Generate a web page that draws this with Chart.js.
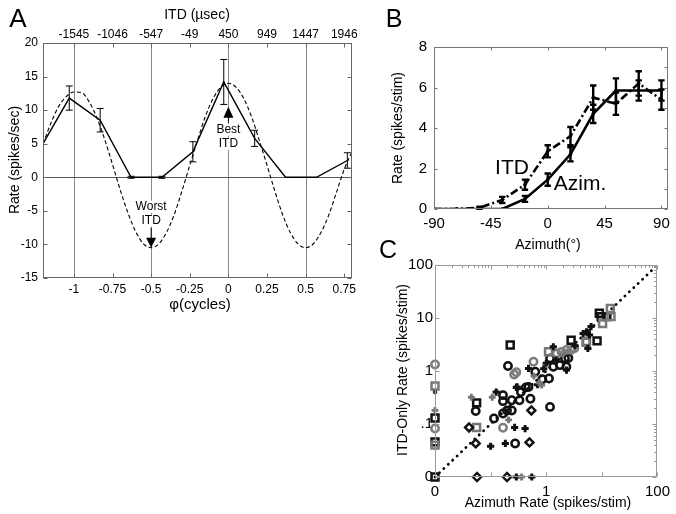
<!DOCTYPE html>
<html><head><meta charset="utf-8">
<script src="https://cdn.jsdelivr.net/npm/chart.js@4.4.0/dist/chart.umd.min.js"></script>
<style>
html,body{margin:0;padding:0;background:#fff;overflow:hidden;width:676px;height:514px;}
canvas{position:absolute;}
</style></head><body>
<canvas id="cA" width="370" height="330" style="left:0px;top:0px"></canvas>
<canvas id="cB" width="306" height="260" style="left:370px;top:0px"></canvas>
<canvas id="cC" width="306" height="274" style="left:370px;top:240px"></canvas>
<script>
// ---------------- Panel A data ----------------
const phiTicks = [-1, -0.75, -0.5, -0.25, 0, 0.25, 0.5, 0.75];
const itdTickLabels = ['-1545', '-1046', '-547', '-49', '450', '949', '1447', '1946'];
const rateTicksA = [-15, -10, -5, 0, 5, 10, 15, 20];
const gridPhi = [-1, -0.5, 0, 0.5];
const phiMeasured = [-1.2, -1.03, -0.83, -0.63, -0.43, -0.23, -0.03, 0.17, 0.37, 0.57, 0.77];
const rateMeasured = [5.0, 11.8, 8.5, 0, 0, 3.8, 14.2, 5.8, 0, 0, 2.5];
const rateErrA = [0, 1.8, 1.75, 0.15, 0.15, 1.5, 3.35, 1.2, 0, 0, 1.15];
const phiFit = [-1.2, -1.15, -1.1, -1.05, -1.0, -0.95, -0.9, -0.85, -0.8, -0.75, -0.7, -0.65, -0.6, -0.55, -0.5,
  -0.45, -0.4, -0.35, -0.3, -0.25, -0.2, -0.15, -0.1, -0.05, 0, 0.05, 0.1, 0.15, 0.2, 0.25, 0.3, 0.35, 0.4,
  0.45, 0.5, 0.55, 0.6, 0.65, 0.7, 0.75, 0.8];
const rateFit = [5.0, 8.0, 10.5, 12.0, 12.7, 12.6, 11.2, 8.8, 5.6, 1.9, -1.9, -5.3, -8.1, -9.9, -10.5,
  -9.9, -8.2, -5.5, -2.0, 1.8, 5.5, 9.0, 11.7, 13.4, 14.0, 13.4, 11.7, 9.0, 5.5, 1.8, -2.0, -5.5, -8.2,
  -9.9, -10.5, -9.9, -8.2, -5.6, -2.2, 1.2, 3.8];

// ---------------- Panel B data ----------------
const azimuthDeg = [-90, -72, -54, -36, -18, 0, 18, 36, 54, 72, 90];
const azimRate = [0, 0, 0, 0, 0.5, 1.45, 2.7, 4.7, 5.85, 5.85, 5.85];
const azimErr = [0, 0, 0, 0, 0.15, 0.3, 0.35, 0.45, 0.6, 0.5, 0.5];
const itdRate = [0, 0, 0.06, 0.45, 1.2, 2.85, 3.6, 5.5, 5.2, 6.2, 5.4];
const itdErr = [0, 0, 0.05, 0.15, 0.25, 0.3, 0.45, 0.6, 0.55, 0.6, 0.5];
const azTicks = [-90, -45, 0, 45, 90];
const rateTicksB = [0, 2, 4, 6, 8];

// ---------------- Panel C data (0 = plotted on the "0" axis line) ----------------
const cTicksX = [0.01, 1, 100];
const cTickLabelsX = ['0', '1', '100'];
const cTicksY = [0.01, 0.1, 1, 10, 100];
const cTickLabelsY = ['0', '.1', '1', '10', '100'];
const blackCircles = [[0.205,1.24],[0.167,0.35],[0.167,0.27],[0.24,0.28],[0.33,0.28],[0.43,0.49],[0.197,0.18],
  [0.167,0.158],[0.24,0.18],[0.115,0.127],[0.054,0.175],[0.276,0.043],[0.52,0.30],[0.635,0.97],[0.85,0.70],
  [1.12,0.72],[1.17,0.21],[1.17,1.73],[2.17,1.73],[1.76,1.29],[1.34,1.2],[2.5,1.75],[0.48,0.50],[0.35,0.40],[2.3,1.2]];
const grayCircles = [[0,1.33],[0.265,0.86],[0.167,0.085],[0.59,1.49],[0,0.082],[1.54,2.15],[1.88,2.3],
  [2.3,2.5],[2.8,2.5],[3.2,2.7],[0.29,0.95]];
const blackSquares = [[0.225,3.1],[0,0.13],[0,0.046],[0,0],[2.8,3.8],[8.2,3.7],[9.0,12.3],[9.7,10.6],[12.3,10.6],[0.056,0.25]];
const graySquares = [[0,0.52],[0.056,0.086],[1.1,2.3],[5.2,3.5],[5.3,3.6],[10.3,7.9],[14.2,15.1],[14.6,10.6],[0,0.04]];
const diamonds = [[0.041,0.086],[0.054,0.043],[0.057,0],[0.197,0],[0.54,0.18],[0.5,0.045]];
const blackCrosses = [[0.29,0.49],[0.126,0.40],[0.27,0.086],[0.417,0.082],[0.1,0.038],[0.184,0.043],[0.48,1.12],
  [1.0,1.4],[1.34,2.87],[2.31,1.04],[4.6,5.1],[5.3,5.5],[6.4,6.9],[6.0,4.8],[5.6,2.67],[0.55,0],[0.29,0],
  [0.7,0.55],[0.3,0.5],[0.9,1.1],[1.5,1.6],[3.3,3.0]];
const grayCrosses = [[0.045,0.32],[0.107,0.32],[0.21,0.12],[0.83,0.54],[0.36,0],[0,0.18],[0.75,0.6],[2.0,2.1],[0.6,0.8]];
const smallDots = [[0,0.40]];
const diagonal = [[0.01,0.01],[100,100]];

// ---------------- helpers ----------------
const FONT = "'Liberation Sans', Arial, Helvetica, sans-serif";
const C_ZERO = 0.01;
Chart.defaults.font.family = FONT;
Chart.defaults.color = '#000';

function makeFrame(cfg) {
  return {
    id: 'frame',
    beforeDatasetsDraw(chart) {
      const {ctx, chartArea: a} = chart;
      const X = chart.scales[cfg.x], Y = chart.scales[cfg.y];
      ctx.save();
      ctx.lineWidth = 1;
      (cfg.vgrid || []).forEach(v => {
        const px = Math.round(X.getPixelForValue(v)) + 0.5;
        ctx.strokeStyle = cfg.gridColor; ctx.beginPath(); ctx.moveTo(px, a.top); ctx.lineTo(px, a.bottom); ctx.stroke();
      });
      (cfg.hgrid || []).forEach(v => {
        const py = Math.round(Y.getPixelForValue(v)) + 0.5;
        ctx.strokeStyle = cfg.hgridColor || cfg.gridColor; ctx.beginPath(); ctx.moveTo(a.left, py); ctx.lineTo(a.right, py); ctx.stroke();
      });
      ctx.restore();
    },
    afterDraw(chart) {
      const {ctx, chartArea: a} = chart;
      const X = chart.scales[cfg.x], Y = chart.scales[cfg.y];
      const L = Math.round(a.left) + 0.5, R = Math.round(a.right) - 0.5, T = Math.round(a.top) + 0.5, B = Math.round(a.bottom) - 0.5;
      ctx.save();
      ctx.strokeStyle = cfg.color; ctx.lineWidth = 1;
      ctx.strokeRect(L, T, R - L, B - T);
      const tl = cfg.len;
      ctx.beginPath();
      (cfg.xTicksBottom || []).forEach(v => { const p = Math.round(X.getPixelForValue(v)) + 0.5; ctx.moveTo(p, B); ctx.lineTo(p, B - tl); });
      (cfg.xTicksTop || []).forEach(v => { const p = Math.round(X.getPixelForValue(v)) + 0.5; ctx.moveTo(p, T); ctx.lineTo(p, T + tl); });
      (cfg.yTicksLeft || []).forEach(v => { const p = Math.round(Y.getPixelForValue(v)) + 0.5; ctx.moveTo(L, p); ctx.lineTo(L + tl, p); });
      (cfg.yTicksRight || []).forEach(v => { const p = Math.round(Y.getPixelForValue(v)) + 0.5; ctx.moveTo(R, p); ctx.lineTo(R - tl, p); });
      ctx.stroke();
      if (cfg.minorLen) {
        ctx.beginPath();
        (cfg.xMinorTop || []).forEach(v => { const p = Math.round(X.getPixelForValue(v)) + 0.5; ctx.moveTo(p, T); ctx.lineTo(p, T + cfg.minorLen); });
        (cfg.yMinorRight || []).forEach(v => { const p = Math.round(Y.getPixelForValue(v)) + 0.5; ctx.moveTo(R, p); ctx.lineTo(R - cfg.minorLen, p); });
        ctx.stroke();
      }
      ctx.restore();
    }
  };
}

function makeErrorBars(specs) {
  return {
    id: 'errbars',
    afterDatasetsDraw(chart) {
      const ctx = chart.ctx;
      specs.forEach(s => {
        const X = chart.scales.x, Y = chart.scales.y;
        ctx.save();
        ctx.strokeStyle = s.color; ctx.lineWidth = s.width; ctx.lineCap = 'butt';
        s.xs.forEach((xv, i) => {
          const e = s.errs[i]; if (!e) return;
          const px = X.getPixelForValue(xv);
          const top = Y.getPixelForValue(s.ys[i] + e), bot = Y.getPixelForValue(s.ys[i] - e);
          ctx.beginPath();
          ctx.moveTo(px, top); ctx.lineTo(px, bot);
          ctx.moveTo(px - s.cap, top); ctx.lineTo(px + s.cap, top);
          ctx.moveTo(px - s.cap, bot); ctx.lineTo(px + s.cap, bot);
          ctx.stroke();
        });
        ctx.restore();
      });
    }
  };
}

function makeText(fn) { return {id: 'texts', afterDraw(chart) { const ctx = chart.ctx; ctx.save(); fn(ctx, chart); ctx.restore(); }}; }

function txt(ctx, s, x, y, size, opts = {}) {
  ctx.save();
  ctx.font = (opts.weight || '') + ' ' + size + 'px ' + FONT;
  ctx.fillStyle = opts.color || '#000';
  ctx.textAlign = opts.align || 'center';
  ctx.textBaseline = 'middle';
  ctx.translate(x, y);
  if (opts.rot) ctx.rotate(opts.rot);
  if (opts.bg) {
    const w = ctx.measureText(s).width;
    ctx.fillStyle = '#fff'; ctx.fillRect(-w / 2 - 1, -size / 2, w + 2, size);
    ctx.fillStyle = opts.color || '#000';
  }
  ctx.fillText(s, 0, 0);
  ctx.restore();
}

const pts = (xs, ys) => xs.map((x, i) => ({x, y: ys[i]}));
const cPts = arr => arr.map(([x, y]) => ({x: x === 0 ? C_ZERO : x, y: y === 0 ? C_ZERO : y}));
const fixedTicks = vals => (s => { s.ticks = vals.map(v => ({value: v})); });

// ---------------- Panel A ----------------
new Chart(document.getElementById('cA'), {
  type: 'scatter',
  data: {
    datasets: [
      {data: pts(phiMeasured, rateMeasured), showLine: true, borderColor: '#000', borderWidth: 1.4, pointRadius: 0, tension: 0},
      {data: pts(phiFit, rateFit), showLine: true, borderColor: '#000', borderWidth: 1.1, borderDash: [4, 2.5], pointRadius: 0, cubicInterpolationMode: 'monotone'}
    ]
  },
  options: {
    responsive: false, animation: false,
    layout: {padding: {left: 0, right: 18, top: 0, bottom: 0}},
    plugins: {legend: {display: false}, tooltip: {enabled: false}},
    scales: {
      x: {type: 'linear', position: 'bottom', min: -1.2, max: 0.8, afterBuildTicks: fixedTicks(phiTicks),
        afterFit: s => { s.height = 52; },
        ticks: {callback: v => String(v), font: {size: 12}, color: '#000', padding: 4, autoSkip: false, maxRotation: 0},
        grid: {display: false, drawTicks: false}, border: {display: false}},
      x2: {type: 'linear', position: 'top', min: -1.2, max: 0.8, afterBuildTicks: fixedTicks(phiTicks),
        afterFit: s => { s.height = 43; },
        ticks: {callback: (v, i) => itdTickLabels[i], font: {size: 12}, color: '#000', padding: 1, autoSkip: false, maxRotation: 0},
        grid: {display: false, drawTicks: false}, border: {display: false}},
      y: {type: 'linear', position: 'left', min: -15, max: 20, afterBuildTicks: fixedTicks(rateTicksA),
        afterFit: s => { s.width = 43; },
        ticks: {font: {size: 12}, color: '#000', padding: 5},
        grid: {display: false, drawTicks: false}, border: {display: false}}
    }
  },
  plugins: [
    makeFrame({x: 'x', y: 'y', color: '#666', len: 4, gridColor: '#8a8a8a', hgridColor: '#555', vgrid: gridPhi, hgrid: [0],
      xTicksBottom: phiTicks, xTicksTop: phiTicks, yTicksLeft: rateTicksA, yTicksRight: rateTicksA}),
    makeErrorBars([{xs: phiMeasured, ys: rateMeasured, errs: rateErrA, color: '#000', width: 1, cap: 3.5}]),
    makeText((ctx, chart) => {
      const X = chart.scales.x, Y = chart.scales.y;
      txt(ctx, 'A', 18, 20, 26);
      txt(ctx, 'ITD (µsec)', 197, 15, 14);
      txt(ctx, 'φ(cycles)', 200, 305, 15);
      txt(ctx, 'Rate (spikes/sec)', 15, 160, 14, {rot: -Math.PI / 2});
      // Best ITD arrow (pointing up)
      const bx = X.getPixelForValue(0), btip = Y.getPixelForValue(10.5);
      txt(ctx, 'Best', bx, btip + 23, 12, {bg: true});
      txt(ctx, 'ITD', bx, btip + 37, 12, {bg: true});
      ctx.fillStyle = '#000'; ctx.strokeStyle = '#000'; ctx.lineWidth = 1;
      ctx.beginPath(); ctx.moveTo(bx, btip); ctx.lineTo(bx - 5, btip + 11); ctx.lineTo(bx + 5, btip + 11); ctx.closePath(); ctx.fill();
      ctx.beginPath(); ctx.moveTo(bx, btip + 10); ctx.lineTo(bx, btip + 16); ctx.stroke();
      // Worst ITD arrow (pointing down)
      const wx = X.getPixelForValue(-0.5), wtip = Y.getPixelForValue(-10.5);
      txt(ctx, 'Worst', wx, wtip - 41, 12, {bg: true});
      txt(ctx, 'ITD', wx, wtip - 27, 12, {bg: true});
      ctx.beginPath(); ctx.moveTo(wx, wtip); ctx.lineTo(wx - 5, wtip - 10); ctx.lineTo(wx + 5, wtip - 10); ctx.closePath(); ctx.fill();
      ctx.beginPath(); ctx.moveTo(wx, wtip - 9); ctx.lineTo(wx, wtip - 20); ctx.stroke();
    })
  ]
});

// ---------------- Panel B ----------------
new Chart(document.getElementById('cB'), {
  type: 'scatter',
  data: {
    datasets: [
      {data: pts(azimuthDeg, azimRate), showLine: true, borderColor: '#000', borderWidth: 2.6, pointRadius: 1.8, pointBackgroundColor: '#000', pointBorderWidth: 0, tension: 0},
      {data: pts(azimuthDeg, itdRate), showLine: true, borderColor: '#000', borderWidth: 2.6, borderDash: [8, 3, 2, 3], pointRadius: 1.8, pointBackgroundColor: '#000', pointBorderWidth: 0, tension: 0}
    ]
  },
  options: {
    responsive: false, animation: false,
    layout: {padding: {left: 0, right: 8, top: 47, bottom: 0}},
    plugins: {legend: {display: false}, tooltip: {enabled: false}},
    scales: {
      x: {type: 'linear', min: -90, max: 95, afterBuildTicks: fixedTicks(azTicks),
        afterFit: s => { s.height = 51; },
        ticks: {font: {size: 15}, color: '#000', padding: 6, autoSkip: false, maxRotation: 0},
        grid: {display: false, drawTicks: false}, border: {display: false}},
      y: {type: 'linear', min: 0, max: 8, afterBuildTicks: fixedTicks(rateTicksB),
        afterFit: s => { s.width = 64; },
        ticks: {font: {size: 15}, color: '#000', padding: 7},
        grid: {display: false, drawTicks: false}, border: {display: false}}
    }
  },
  plugins: [
    makeFrame({x: 'x', y: 'y', color: '#777', len: 3, xTicksBottom: azTicks, xTicksTop: azTicks, yTicksLeft: rateTicksB, yTicksRight: [0,1,2,3,4,5,6,7,8]}),
    makeErrorBars([
      {xs: azimuthDeg, ys: azimRate, errs: azimErr, color: '#000', width: 2.4, cap: 3.2},
      {xs: azimuthDeg, ys: itdRate, errs: itdErr, color: '#000', width: 2.4, cap: 3.2}
    ]),
    makeText((ctx) => {
      txt(ctx, 'B', 24, 20, 25);
      txt(ctx, 'Rate (spikes/stim)', 28, 128, 14, {rot: -Math.PI / 2});
      txt(ctx, 'Azimuth(°)', 178, 245, 14);
      txt(ctx, 'ITD', 142, 168, 21);
      txt(ctx, 'Azim.', 210, 184, 21);
    })
  ]
});

// ---------------- Panel C ----------------
const mk = (arr, style, color, radius, bw) => ({data: cPts(arr), pointStyle: style, pointRadius: radius, pointBorderColor: color,
  pointBackgroundColor: 'rgba(0,0,0,0)', pointBorderWidth: bw, showLine: false, clip: false});
const minorVals = [];
[0.01, 0.1, 1, 10].forEach(d => { for (let k = 2; k <= 9; k++) minorVals.push(d * k); });
new Chart(document.getElementById('cC'), {
  type: 'scatter',
  data: {
    datasets: [
      mk(smallDots, 'circle', '#333', 1.4, 1.8),
      mk(grayCrosses, 'cross', '#777', 3.4, 2.8),
      mk(blackCrosses, 'cross', '#111', 3.6, 3.0),
      mk(diamonds, 'rectRot', '#111', 4.0, 2.4),
      mk(graySquares, 'rect', '#777', 4.9, 2.5),
      mk(blackSquares, 'rect', '#111', 4.9, 2.5),
      mk(grayCircles, 'circle', '#7d7d7d', 3.7, 2.5),
      mk(blackCircles, 'circle', '#111', 3.7, 2.5),
      {data: cPts(diagonal), showLine: true, borderColor: '#000', borderWidth: 2.8, borderDash: [0.1, 6], borderCapStyle: 'round', pointRadius: 0, clip: false}
    ]
  },
  options: {
    responsive: false, animation: false,
    layout: {padding: {left: 0, right: 15, top: 25, bottom: 0}},
    plugins: {legend: {display: false}, tooltip: {enabled: false}},
    scales: {
      x: {type: 'logarithmic', min: 0.01, max: 100, afterBuildTicks: fixedTicks(cTicksX),
        afterFit: s => { s.height = 37; },
        ticks: {callback: (v, i) => cTickLabelsX[i], font: {size: 15}, color: '#000', padding: 6, autoSkip: false, maxRotation: 0},
        grid: {display: false, drawTicks: false}, border: {display: false}},
      y: {type: 'logarithmic', min: 0.01, max: 100, afterBuildTicks: fixedTicks(cTicksY),
        afterFit: s => { s.width = 65; },
        ticks: {callback: (v, i) => cTickLabelsY[i], font: {size: 15}, color: '#000', padding: 2},
        grid: {display: false, drawTicks: false}, border: {display: false}}
    }
  },
  plugins: [
    makeFrame({x: 'x', y: 'y', color: '#999', len: 4, xTicksBottom: [0.01, 0.1, 1, 10, 100], xTicksTop: [0.01, 0.1, 1, 10, 100],
      yTicksLeft: cTicksY, yTicksRight: cTicksY, minorLen: 2.5, xMinorTop: minorVals, yMinorRight: minorVals}),
    makeText((ctx) => {
      txt(ctx, 'C', 18, 11, 25);
      txt(ctx, 'ITD-Only Rate (spikes/stim)', 33, 130, 14, {rot: -Math.PI / 2});
      txt(ctx, 'Azimuth Rate (spikes/stim)', 178, 263, 14);
    })
  ]
});
</script>
</body></html>
